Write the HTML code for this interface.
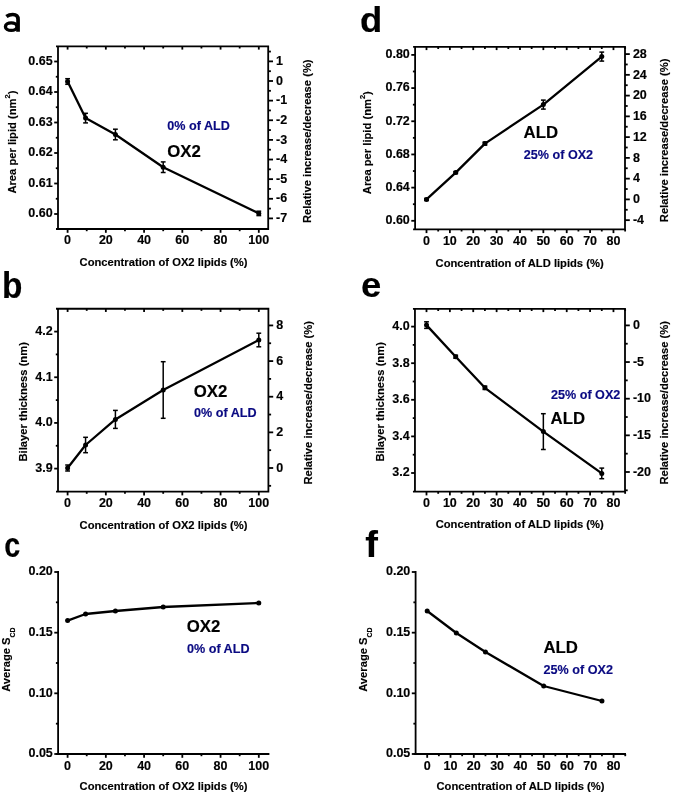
<!DOCTYPE html>
<html><head><meta charset="utf-8"><style>
html,body{margin:0;padding:0;background:#fff;}
svg{display:block;will-change:transform;}
text{font-family:"Liberation Sans", sans-serif;}
</style></head><body>
<svg width="675" height="794" viewBox="0 0 675 794">
<rect width="675" height="794" fill="#fff"/>
<path d="M58 45.5 V229.9 M268.2 45.5 V229.9 M56 46.4 H269.1 M56 229 H269.1" fill="none" stroke="#000" stroke-width="1.8"/>
<line x1="67.6" y1="229" x2="67.6" y2="232.8" stroke="#000" stroke-width="1.8"/>
<line x1="67.6" y1="46.4" x2="67.6" y2="49.6" stroke="#000" stroke-width="1.8"/>
<text x="67.6" y="244.4" font-size="12.5" text-anchor="middle" fill="#000" font-weight="bold" stroke="#000" stroke-width="0.15" >0</text>
<line x1="105.84" y1="229" x2="105.84" y2="232.8" stroke="#000" stroke-width="1.8"/>
<line x1="105.84" y1="46.4" x2="105.84" y2="49.6" stroke="#000" stroke-width="1.8"/>
<text x="105.84" y="244.4" font-size="12.5" text-anchor="middle" fill="#000" font-weight="bold" stroke="#000" stroke-width="0.15" >20</text>
<line x1="144.08" y1="229" x2="144.08" y2="232.8" stroke="#000" stroke-width="1.8"/>
<line x1="144.08" y1="46.4" x2="144.08" y2="49.6" stroke="#000" stroke-width="1.8"/>
<text x="144.08" y="244.4" font-size="12.5" text-anchor="middle" fill="#000" font-weight="bold" stroke="#000" stroke-width="0.15" >40</text>
<line x1="182.32" y1="229" x2="182.32" y2="232.8" stroke="#000" stroke-width="1.8"/>
<line x1="182.32" y1="46.4" x2="182.32" y2="49.6" stroke="#000" stroke-width="1.8"/>
<text x="182.32" y="244.4" font-size="12.5" text-anchor="middle" fill="#000" font-weight="bold" stroke="#000" stroke-width="0.15" >60</text>
<line x1="220.56" y1="229" x2="220.56" y2="232.8" stroke="#000" stroke-width="1.8"/>
<line x1="220.56" y1="46.4" x2="220.56" y2="49.6" stroke="#000" stroke-width="1.8"/>
<text x="220.56" y="244.4" font-size="12.5" text-anchor="middle" fill="#000" font-weight="bold" stroke="#000" stroke-width="0.15" >80</text>
<line x1="258.8" y1="229" x2="258.8" y2="232.8" stroke="#000" stroke-width="1.8"/>
<line x1="258.8" y1="46.4" x2="258.8" y2="49.6" stroke="#000" stroke-width="1.8"/>
<text x="258.8" y="244.4" font-size="12.5" text-anchor="middle" fill="#000" font-weight="bold" stroke="#000" stroke-width="0.15" >100</text>
<line x1="86.72" y1="229" x2="86.72" y2="231.2" stroke="#000" stroke-width="1.8"/>
<line x1="86.72" y1="46.4" x2="86.72" y2="48.5" stroke="#000" stroke-width="1.8"/>
<line x1="124.96" y1="229" x2="124.96" y2="231.2" stroke="#000" stroke-width="1.8"/>
<line x1="124.96" y1="46.4" x2="124.96" y2="48.5" stroke="#000" stroke-width="1.8"/>
<line x1="163.2" y1="229" x2="163.2" y2="231.2" stroke="#000" stroke-width="1.8"/>
<line x1="163.2" y1="46.4" x2="163.2" y2="48.5" stroke="#000" stroke-width="1.8"/>
<line x1="201.44" y1="229" x2="201.44" y2="231.2" stroke="#000" stroke-width="1.8"/>
<line x1="201.44" y1="46.4" x2="201.44" y2="48.5" stroke="#000" stroke-width="1.8"/>
<line x1="239.68" y1="229" x2="239.68" y2="231.2" stroke="#000" stroke-width="1.8"/>
<line x1="239.68" y1="46.4" x2="239.68" y2="48.5" stroke="#000" stroke-width="1.8"/>
<line x1="54.2" y1="214" x2="58" y2="214" stroke="#000" stroke-width="1.8"/>
<text x="52.7" y="217.4" font-size="12.5" text-anchor="end" fill="#000" font-weight="bold" stroke="#000" stroke-width="0.15" >0.60</text>
<line x1="54.2" y1="183.5" x2="58" y2="183.5" stroke="#000" stroke-width="1.8"/>
<text x="52.7" y="186.9" font-size="12.5" text-anchor="end" fill="#000" font-weight="bold" stroke="#000" stroke-width="0.15" >0.61</text>
<line x1="54.2" y1="153" x2="58" y2="153" stroke="#000" stroke-width="1.8"/>
<text x="52.7" y="156.4" font-size="12.5" text-anchor="end" fill="#000" font-weight="bold" stroke="#000" stroke-width="0.15" >0.62</text>
<line x1="54.2" y1="122.5" x2="58" y2="122.5" stroke="#000" stroke-width="1.8"/>
<text x="52.7" y="125.9" font-size="12.5" text-anchor="end" fill="#000" font-weight="bold" stroke="#000" stroke-width="0.15" >0.63</text>
<line x1="54.2" y1="92" x2="58" y2="92" stroke="#000" stroke-width="1.8"/>
<text x="52.7" y="95.4" font-size="12.5" text-anchor="end" fill="#000" font-weight="bold" stroke="#000" stroke-width="0.15" >0.64</text>
<line x1="54.2" y1="61.5" x2="58" y2="61.5" stroke="#000" stroke-width="1.8"/>
<text x="52.7" y="64.9" font-size="12.5" text-anchor="end" fill="#000" font-weight="bold" stroke="#000" stroke-width="0.15" >0.65</text>
<line x1="55.8" y1="198.75" x2="58" y2="198.75" stroke="#000" stroke-width="1.8"/>
<line x1="55.8" y1="168.25" x2="58" y2="168.25" stroke="#000" stroke-width="1.8"/>
<line x1="55.8" y1="137.75" x2="58" y2="137.75" stroke="#000" stroke-width="1.8"/>
<line x1="55.8" y1="107.25" x2="58" y2="107.25" stroke="#000" stroke-width="1.8"/>
<line x1="55.8" y1="76.75" x2="58" y2="76.75" stroke="#000" stroke-width="1.8"/>
<line x1="268.2" y1="61.37" x2="273" y2="61.37" stroke="#000" stroke-width="1.8"/>
<text x="276.1" y="65.07" font-size="12.5" text-anchor="start" fill="#000" font-weight="bold" stroke="#000" stroke-width="0.15" >1</text>
<line x1="268.2" y1="81" x2="273" y2="81" stroke="#000" stroke-width="1.8"/>
<text x="276.1" y="84.7" font-size="12.5" text-anchor="start" fill="#000" font-weight="bold" stroke="#000" stroke-width="0.15" >0</text>
<line x1="268.2" y1="100.63" x2="273" y2="100.63" stroke="#000" stroke-width="1.8"/>
<text x="276.1" y="104.33" font-size="12.5" text-anchor="start" fill="#000" font-weight="bold" stroke="#000" stroke-width="0.15" >-1</text>
<line x1="268.2" y1="120.26" x2="273" y2="120.26" stroke="#000" stroke-width="1.8"/>
<text x="276.1" y="123.96" font-size="12.5" text-anchor="start" fill="#000" font-weight="bold" stroke="#000" stroke-width="0.15" >-2</text>
<line x1="268.2" y1="139.89" x2="273" y2="139.89" stroke="#000" stroke-width="1.8"/>
<text x="276.1" y="143.59" font-size="12.5" text-anchor="start" fill="#000" font-weight="bold" stroke="#000" stroke-width="0.15" >-3</text>
<line x1="268.2" y1="159.52" x2="273" y2="159.52" stroke="#000" stroke-width="1.8"/>
<text x="276.1" y="163.22" font-size="12.5" text-anchor="start" fill="#000" font-weight="bold" stroke="#000" stroke-width="0.15" >-4</text>
<line x1="268.2" y1="179.15" x2="273" y2="179.15" stroke="#000" stroke-width="1.8"/>
<text x="276.1" y="182.85" font-size="12.5" text-anchor="start" fill="#000" font-weight="bold" stroke="#000" stroke-width="0.15" >-5</text>
<line x1="268.2" y1="198.78" x2="273" y2="198.78" stroke="#000" stroke-width="1.8"/>
<text x="276.1" y="202.48" font-size="12.5" text-anchor="start" fill="#000" font-weight="bold" stroke="#000" stroke-width="0.15" >-6</text>
<line x1="268.2" y1="218.41" x2="273" y2="218.41" stroke="#000" stroke-width="1.8"/>
<text x="276.1" y="222.11" font-size="12.5" text-anchor="start" fill="#000" font-weight="bold" stroke="#000" stroke-width="0.15" >-7</text>
<line x1="268.2" y1="51.55" x2="270.9" y2="51.55" stroke="#000" stroke-width="1.8"/>
<line x1="268.2" y1="71.19" x2="270.9" y2="71.19" stroke="#000" stroke-width="1.8"/>
<line x1="268.2" y1="90.81" x2="270.9" y2="90.81" stroke="#000" stroke-width="1.8"/>
<line x1="268.2" y1="110.44" x2="270.9" y2="110.44" stroke="#000" stroke-width="1.8"/>
<line x1="268.2" y1="130.07" x2="270.9" y2="130.07" stroke="#000" stroke-width="1.8"/>
<line x1="268.2" y1="149.7" x2="270.9" y2="149.7" stroke="#000" stroke-width="1.8"/>
<line x1="268.2" y1="169.33" x2="270.9" y2="169.33" stroke="#000" stroke-width="1.8"/>
<line x1="268.2" y1="188.96" x2="270.9" y2="188.96" stroke="#000" stroke-width="1.8"/>
<line x1="268.2" y1="208.59" x2="270.9" y2="208.59" stroke="#000" stroke-width="1.8"/>
<path d="M67.6 81.5 L85.57 118.1 L115.4 134.5 L163.2 167.2 L258.8 213.4" fill="none" stroke="#000" stroke-width="2.3" stroke-linejoin="round"/>
<line x1="67.6" y1="78.7" x2="67.6" y2="84.3" stroke="#000" stroke-width="1.5"/>
<line x1="65.2" y1="78.7" x2="70" y2="78.7" stroke="#000" stroke-width="1.5"/>
<line x1="65.2" y1="84.3" x2="70" y2="84.3" stroke="#000" stroke-width="1.5"/>
<circle cx="67.6" cy="81.5" r="2.5" fill="#000"/>
<line x1="85.57" y1="113.3" x2="85.57" y2="122.9" stroke="#000" stroke-width="1.5"/>
<line x1="83.17" y1="113.3" x2="87.97" y2="113.3" stroke="#000" stroke-width="1.5"/>
<line x1="83.17" y1="122.9" x2="87.97" y2="122.9" stroke="#000" stroke-width="1.5"/>
<circle cx="85.57" cy="118.1" r="2.5" fill="#000"/>
<line x1="115.4" y1="129.2" x2="115.4" y2="139.8" stroke="#000" stroke-width="1.5"/>
<line x1="113" y1="129.2" x2="117.8" y2="129.2" stroke="#000" stroke-width="1.5"/>
<line x1="113" y1="139.8" x2="117.8" y2="139.8" stroke="#000" stroke-width="1.5"/>
<circle cx="115.4" cy="134.5" r="2.5" fill="#000"/>
<line x1="163.2" y1="161.9" x2="163.2" y2="172.5" stroke="#000" stroke-width="1.5"/>
<line x1="160.8" y1="161.9" x2="165.6" y2="161.9" stroke="#000" stroke-width="1.5"/>
<line x1="160.8" y1="172.5" x2="165.6" y2="172.5" stroke="#000" stroke-width="1.5"/>
<circle cx="163.2" cy="167.2" r="2.5" fill="#000"/>
<line x1="258.8" y1="211.2" x2="258.8" y2="215.6" stroke="#000" stroke-width="1.5"/>
<line x1="256.4" y1="211.2" x2="261.2" y2="211.2" stroke="#000" stroke-width="1.5"/>
<line x1="256.4" y1="215.6" x2="261.2" y2="215.6" stroke="#000" stroke-width="1.5"/>
<circle cx="258.8" cy="213.4" r="2.5" fill="#000"/>
<path d="M6.4 16.6 C8.4 15.1 10.6 14.5 12.8 14.5 C16.4 14.5 18.05 16 18.05 19.4 V31.75" fill="none" stroke="#000" stroke-width="3.7"/>
<ellipse cx="11.2" cy="26.65" rx="5.75" ry="3.75" fill="none" stroke="#000" stroke-width="3.4"/>
<text x="167.3" y="130" font-size="12.6" text-anchor="start" fill="#0a0a82" font-weight="bold" stroke="#0a0a82" stroke-width="0.15" >0% of ALD</text>
<text x="167.2" y="156.7" font-size="16.8" text-anchor="start" fill="#000" font-weight="bold" stroke="#000" stroke-width="0.15" >OX2</text>
<text x="79.6" y="265.8" font-size="11.2" text-anchor="start" fill="#000" font-weight="bold" stroke="#000" stroke-width="0.15" >Concentration of OX2 lipids (%)</text>
<text transform="translate(16.3,193.6) rotate(-90)" font-size="11.2" font-weight="bold" stroke="#000" stroke-width="0.15">Area per lipid (nm<tspan font-size="7.5" dy="-6">2</tspan><tspan dy="6">)</tspan></text>
<text transform="translate(311.3,223) rotate(-90)" font-size="11.2" font-weight="bold" stroke="#000" stroke-width="0.15">Relative increase/decrease (%)</text>
<path d="M58 307.85 V492.5 M268.4 307.85 V492.5 M56 308.75 H269.3 M56 491.6 H269.3" fill="none" stroke="#000" stroke-width="1.8"/>
<line x1="67.6" y1="491.6" x2="67.6" y2="495.4" stroke="#000" stroke-width="1.8"/>
<line x1="67.6" y1="308.75" x2="67.6" y2="311.95" stroke="#000" stroke-width="1.8"/>
<text x="67.6" y="507.2" font-size="12.5" text-anchor="middle" fill="#000" font-weight="bold" stroke="#000" stroke-width="0.15" >0</text>
<line x1="105.84" y1="491.6" x2="105.84" y2="495.4" stroke="#000" stroke-width="1.8"/>
<line x1="105.84" y1="308.75" x2="105.84" y2="311.95" stroke="#000" stroke-width="1.8"/>
<text x="105.84" y="507.2" font-size="12.5" text-anchor="middle" fill="#000" font-weight="bold" stroke="#000" stroke-width="0.15" >20</text>
<line x1="144.08" y1="491.6" x2="144.08" y2="495.4" stroke="#000" stroke-width="1.8"/>
<line x1="144.08" y1="308.75" x2="144.08" y2="311.95" stroke="#000" stroke-width="1.8"/>
<text x="144.08" y="507.2" font-size="12.5" text-anchor="middle" fill="#000" font-weight="bold" stroke="#000" stroke-width="0.15" >40</text>
<line x1="182.32" y1="491.6" x2="182.32" y2="495.4" stroke="#000" stroke-width="1.8"/>
<line x1="182.32" y1="308.75" x2="182.32" y2="311.95" stroke="#000" stroke-width="1.8"/>
<text x="182.32" y="507.2" font-size="12.5" text-anchor="middle" fill="#000" font-weight="bold" stroke="#000" stroke-width="0.15" >60</text>
<line x1="220.56" y1="491.6" x2="220.56" y2="495.4" stroke="#000" stroke-width="1.8"/>
<line x1="220.56" y1="308.75" x2="220.56" y2="311.95" stroke="#000" stroke-width="1.8"/>
<text x="220.56" y="507.2" font-size="12.5" text-anchor="middle" fill="#000" font-weight="bold" stroke="#000" stroke-width="0.15" >80</text>
<line x1="258.8" y1="491.6" x2="258.8" y2="495.4" stroke="#000" stroke-width="1.8"/>
<line x1="258.8" y1="308.75" x2="258.8" y2="311.95" stroke="#000" stroke-width="1.8"/>
<text x="258.8" y="507.2" font-size="12.5" text-anchor="middle" fill="#000" font-weight="bold" stroke="#000" stroke-width="0.15" >100</text>
<line x1="86.72" y1="491.6" x2="86.72" y2="493.8" stroke="#000" stroke-width="1.8"/>
<line x1="86.72" y1="308.75" x2="86.72" y2="310.85" stroke="#000" stroke-width="1.8"/>
<line x1="124.96" y1="491.6" x2="124.96" y2="493.8" stroke="#000" stroke-width="1.8"/>
<line x1="124.96" y1="308.75" x2="124.96" y2="310.85" stroke="#000" stroke-width="1.8"/>
<line x1="163.2" y1="491.6" x2="163.2" y2="493.8" stroke="#000" stroke-width="1.8"/>
<line x1="163.2" y1="308.75" x2="163.2" y2="310.85" stroke="#000" stroke-width="1.8"/>
<line x1="201.44" y1="491.6" x2="201.44" y2="493.8" stroke="#000" stroke-width="1.8"/>
<line x1="201.44" y1="308.75" x2="201.44" y2="310.85" stroke="#000" stroke-width="1.8"/>
<line x1="239.68" y1="491.6" x2="239.68" y2="493.8" stroke="#000" stroke-width="1.8"/>
<line x1="239.68" y1="308.75" x2="239.68" y2="310.85" stroke="#000" stroke-width="1.8"/>
<line x1="54.2" y1="468.6" x2="58" y2="468.6" stroke="#000" stroke-width="1.8"/>
<text x="52.7" y="472" font-size="12.5" text-anchor="end" fill="#000" font-weight="bold" stroke="#000" stroke-width="0.15" >3.9</text>
<line x1="54.2" y1="422.93" x2="58" y2="422.93" stroke="#000" stroke-width="1.8"/>
<text x="52.7" y="426.33" font-size="12.5" text-anchor="end" fill="#000" font-weight="bold" stroke="#000" stroke-width="0.15" >4.0</text>
<line x1="54.2" y1="377.26" x2="58" y2="377.26" stroke="#000" stroke-width="1.8"/>
<text x="52.7" y="380.66" font-size="12.5" text-anchor="end" fill="#000" font-weight="bold" stroke="#000" stroke-width="0.15" >4.1</text>
<line x1="54.2" y1="331.59" x2="58" y2="331.59" stroke="#000" stroke-width="1.8"/>
<text x="52.7" y="334.99" font-size="12.5" text-anchor="end" fill="#000" font-weight="bold" stroke="#000" stroke-width="0.15" >4.2</text>
<line x1="55.8" y1="445.76" x2="58" y2="445.76" stroke="#000" stroke-width="1.8"/>
<line x1="55.8" y1="400.1" x2="58" y2="400.1" stroke="#000" stroke-width="1.8"/>
<line x1="55.8" y1="354.42" x2="58" y2="354.42" stroke="#000" stroke-width="1.8"/>
<line x1="268.4" y1="468" x2="273.2" y2="468" stroke="#000" stroke-width="1.8"/>
<text x="276.3" y="471.7" font-size="12.5" text-anchor="start" fill="#000" font-weight="bold" stroke="#000" stroke-width="0.15" >0</text>
<line x1="268.4" y1="432.36" x2="273.2" y2="432.36" stroke="#000" stroke-width="1.8"/>
<text x="276.3" y="436.06" font-size="12.5" text-anchor="start" fill="#000" font-weight="bold" stroke="#000" stroke-width="0.15" >2</text>
<line x1="268.4" y1="396.72" x2="273.2" y2="396.72" stroke="#000" stroke-width="1.8"/>
<text x="276.3" y="400.42" font-size="12.5" text-anchor="start" fill="#000" font-weight="bold" stroke="#000" stroke-width="0.15" >4</text>
<line x1="268.4" y1="361.08" x2="273.2" y2="361.08" stroke="#000" stroke-width="1.8"/>
<text x="276.3" y="364.78" font-size="12.5" text-anchor="start" fill="#000" font-weight="bold" stroke="#000" stroke-width="0.15" >6</text>
<line x1="268.4" y1="325.44" x2="273.2" y2="325.44" stroke="#000" stroke-width="1.8"/>
<text x="276.3" y="329.14" font-size="12.5" text-anchor="start" fill="#000" font-weight="bold" stroke="#000" stroke-width="0.15" >8</text>
<line x1="268.4" y1="485.82" x2="271.1" y2="485.82" stroke="#000" stroke-width="1.8"/>
<line x1="268.4" y1="450.18" x2="271.1" y2="450.18" stroke="#000" stroke-width="1.8"/>
<line x1="268.4" y1="414.54" x2="271.1" y2="414.54" stroke="#000" stroke-width="1.8"/>
<line x1="268.4" y1="378.9" x2="271.1" y2="378.9" stroke="#000" stroke-width="1.8"/>
<line x1="268.4" y1="343.26" x2="271.1" y2="343.26" stroke="#000" stroke-width="1.8"/>
<path d="M67.6 468 L85.57 445 L115.4 419.4 L163.2 390 L258.8 340" fill="none" stroke="#000" stroke-width="2.3" stroke-linejoin="round"/>
<line x1="67.6" y1="465" x2="67.6" y2="471" stroke="#000" stroke-width="1.5"/>
<line x1="65.2" y1="465" x2="70" y2="465" stroke="#000" stroke-width="1.5"/>
<line x1="65.2" y1="471" x2="70" y2="471" stroke="#000" stroke-width="1.5"/>
<circle cx="67.6" cy="468" r="2.5" fill="#000"/>
<line x1="85.57" y1="437.3" x2="85.57" y2="452.7" stroke="#000" stroke-width="1.5"/>
<line x1="83.17" y1="437.3" x2="87.97" y2="437.3" stroke="#000" stroke-width="1.5"/>
<line x1="83.17" y1="452.7" x2="87.97" y2="452.7" stroke="#000" stroke-width="1.5"/>
<circle cx="85.57" cy="445" r="2.5" fill="#000"/>
<line x1="115.4" y1="410.4" x2="115.4" y2="428.4" stroke="#000" stroke-width="1.5"/>
<line x1="113" y1="410.4" x2="117.8" y2="410.4" stroke="#000" stroke-width="1.5"/>
<line x1="113" y1="428.4" x2="117.8" y2="428.4" stroke="#000" stroke-width="1.5"/>
<circle cx="115.4" cy="419.4" r="2.5" fill="#000"/>
<line x1="163.2" y1="361.7" x2="163.2" y2="418.3" stroke="#000" stroke-width="1.5"/>
<line x1="160.8" y1="361.7" x2="165.6" y2="361.7" stroke="#000" stroke-width="1.5"/>
<line x1="160.8" y1="418.3" x2="165.6" y2="418.3" stroke="#000" stroke-width="1.5"/>
<circle cx="163.2" cy="390" r="2.5" fill="#000"/>
<line x1="258.8" y1="333.2" x2="258.8" y2="346.8" stroke="#000" stroke-width="1.5"/>
<line x1="256.4" y1="333.2" x2="261.2" y2="333.2" stroke="#000" stroke-width="1.5"/>
<line x1="256.4" y1="346.8" x2="261.2" y2="346.8" stroke="#000" stroke-width="1.5"/>
<circle cx="258.8" cy="340" r="2.5" fill="#000"/>
<text transform="translate(2.02,298.04) scale(0.928,1)" font-size="36.05" font-weight="bold" stroke="#000" stroke-width="0.15">b</text>
<text x="193.8" y="397" font-size="16.8" text-anchor="start" fill="#000" font-weight="bold" stroke="#000" stroke-width="0.15" >OX2</text>
<text x="194.1" y="417.2" font-size="12.6" text-anchor="start" fill="#0a0a82" font-weight="bold" stroke="#0a0a82" stroke-width="0.15" >0% of ALD</text>
<text x="79.6" y="529.2" font-size="11.2" text-anchor="start" fill="#000" font-weight="bold" stroke="#000" stroke-width="0.15" >Concentration of OX2 lipids (%)</text>
<text transform="translate(26.8,461.5) rotate(-90)" font-size="11.2" font-weight="bold" stroke="#000" stroke-width="0.15">Bilayer thickness (nm)</text>
<text transform="translate(311.5,484.6) rotate(-90)" font-size="11.2" font-weight="bold" stroke="#000" stroke-width="0.15">Relative increase/decrease (%)</text>
<path d="M58.1 571 V754.9 M56.1 754 H269.4" fill="none" stroke="#000" stroke-width="1.8"/>
<line x1="67.6" y1="754" x2="67.6" y2="757.8" stroke="#000" stroke-width="1.8"/>
<text x="67.6" y="769.6" font-size="12.5" text-anchor="middle" fill="#000" font-weight="bold" stroke="#000" stroke-width="0.15" >0</text>
<line x1="105.84" y1="754" x2="105.84" y2="757.8" stroke="#000" stroke-width="1.8"/>
<text x="105.84" y="769.6" font-size="12.5" text-anchor="middle" fill="#000" font-weight="bold" stroke="#000" stroke-width="0.15" >20</text>
<line x1="144.08" y1="754" x2="144.08" y2="757.8" stroke="#000" stroke-width="1.8"/>
<text x="144.08" y="769.6" font-size="12.5" text-anchor="middle" fill="#000" font-weight="bold" stroke="#000" stroke-width="0.15" >40</text>
<line x1="182.32" y1="754" x2="182.32" y2="757.8" stroke="#000" stroke-width="1.8"/>
<text x="182.32" y="769.6" font-size="12.5" text-anchor="middle" fill="#000" font-weight="bold" stroke="#000" stroke-width="0.15" >60</text>
<line x1="220.56" y1="754" x2="220.56" y2="757.8" stroke="#000" stroke-width="1.8"/>
<text x="220.56" y="769.6" font-size="12.5" text-anchor="middle" fill="#000" font-weight="bold" stroke="#000" stroke-width="0.15" >80</text>
<line x1="258.8" y1="754" x2="258.8" y2="757.8" stroke="#000" stroke-width="1.8"/>
<text x="258.8" y="769.6" font-size="12.5" text-anchor="middle" fill="#000" font-weight="bold" stroke="#000" stroke-width="0.15" >100</text>
<line x1="86.72" y1="754" x2="86.72" y2="756.2" stroke="#000" stroke-width="1.8"/>
<line x1="124.96" y1="754" x2="124.96" y2="756.2" stroke="#000" stroke-width="1.8"/>
<line x1="163.2" y1="754" x2="163.2" y2="756.2" stroke="#000" stroke-width="1.8"/>
<line x1="201.44" y1="754" x2="201.44" y2="756.2" stroke="#000" stroke-width="1.8"/>
<line x1="239.68" y1="754" x2="239.68" y2="756.2" stroke="#000" stroke-width="1.8"/>
<line x1="54.3" y1="754" x2="58.1" y2="754" stroke="#000" stroke-width="1.8"/>
<text x="52.8" y="757.4" font-size="12.5" text-anchor="end" fill="#000" font-weight="bold" stroke="#000" stroke-width="0.15" >0.05</text>
<line x1="54.3" y1="693.33" x2="58.1" y2="693.33" stroke="#000" stroke-width="1.8"/>
<text x="52.8" y="696.73" font-size="12.5" text-anchor="end" fill="#000" font-weight="bold" stroke="#000" stroke-width="0.15" >0.10</text>
<line x1="54.3" y1="632.67" x2="58.1" y2="632.67" stroke="#000" stroke-width="1.8"/>
<text x="52.8" y="636.07" font-size="12.5" text-anchor="end" fill="#000" font-weight="bold" stroke="#000" stroke-width="0.15" >0.15</text>
<line x1="54.3" y1="572" x2="58.1" y2="572" stroke="#000" stroke-width="1.8"/>
<text x="52.8" y="575.4" font-size="12.5" text-anchor="end" fill="#000" font-weight="bold" stroke="#000" stroke-width="0.15" >0.20</text>
<line x1="55.9" y1="723.67" x2="58.1" y2="723.67" stroke="#000" stroke-width="1.8"/>
<line x1="55.9" y1="663" x2="58.1" y2="663" stroke="#000" stroke-width="1.8"/>
<line x1="55.9" y1="602.34" x2="58.1" y2="602.34" stroke="#000" stroke-width="1.8"/>
<path d="M67.6 620.6 L85.57 614 L115.4 611 L163.2 607 L258.8 603" fill="none" stroke="#000" stroke-width="2.3" stroke-linejoin="round"/>
<circle cx="67.6" cy="620.6" r="2.5" fill="#000"/>
<circle cx="85.57" cy="614" r="2.5" fill="#000"/>
<circle cx="115.4" cy="611" r="2.5" fill="#000"/>
<circle cx="163.2" cy="607" r="2.5" fill="#000"/>
<circle cx="258.8" cy="603" r="2.5" fill="#000"/>
<text transform="translate(4.18,556.65) scale(0.827,1)" font-size="34.67" font-weight="bold" stroke="#000" stroke-width="0.15">c</text>
<text x="186.8" y="632.4" font-size="16.8" text-anchor="start" fill="#000" font-weight="bold" stroke="#000" stroke-width="0.15" >OX2</text>
<text x="187" y="653.2" font-size="12.6" text-anchor="start" fill="#0a0a82" font-weight="bold" stroke="#0a0a82" stroke-width="0.15" >0% of ALD</text>
<text x="79.6" y="789.5" font-size="11.2" text-anchor="start" fill="#000" font-weight="bold" stroke="#000" stroke-width="0.15" >Concentration of OX2 lipids (%)</text>
<text transform="translate(10.4,691.8) rotate(-90)" font-size="11.2" font-weight="bold" stroke="#000" stroke-width="0.15">Average S<tspan font-size="7" dy="4.8">CD</tspan></text>
<path d="M415.1 46 V230.2 M625 46 V230.2 M413.1 46.9 H625.9 M413.1 229.3 H625.9" fill="none" stroke="#000" stroke-width="1.8"/>
<line x1="426.5" y1="229.3" x2="426.5" y2="233.1" stroke="#000" stroke-width="1.8"/>
<line x1="426.5" y1="46.9" x2="426.5" y2="50.1" stroke="#000" stroke-width="1.8"/>
<text x="426.5" y="245" font-size="12.5" text-anchor="middle" fill="#000" font-weight="bold" stroke="#000" stroke-width="0.15" >0</text>
<line x1="449.87" y1="229.3" x2="449.87" y2="233.1" stroke="#000" stroke-width="1.8"/>
<line x1="449.87" y1="46.9" x2="449.87" y2="50.1" stroke="#000" stroke-width="1.8"/>
<text x="449.87" y="245" font-size="12.5" text-anchor="middle" fill="#000" font-weight="bold" stroke="#000" stroke-width="0.15" >10</text>
<line x1="473.24" y1="229.3" x2="473.24" y2="233.1" stroke="#000" stroke-width="1.8"/>
<line x1="473.24" y1="46.9" x2="473.24" y2="50.1" stroke="#000" stroke-width="1.8"/>
<text x="473.24" y="245" font-size="12.5" text-anchor="middle" fill="#000" font-weight="bold" stroke="#000" stroke-width="0.15" >20</text>
<line x1="496.61" y1="229.3" x2="496.61" y2="233.1" stroke="#000" stroke-width="1.8"/>
<line x1="496.61" y1="46.9" x2="496.61" y2="50.1" stroke="#000" stroke-width="1.8"/>
<text x="496.61" y="245" font-size="12.5" text-anchor="middle" fill="#000" font-weight="bold" stroke="#000" stroke-width="0.15" >30</text>
<line x1="519.98" y1="229.3" x2="519.98" y2="233.1" stroke="#000" stroke-width="1.8"/>
<line x1="519.98" y1="46.9" x2="519.98" y2="50.1" stroke="#000" stroke-width="1.8"/>
<text x="519.98" y="245" font-size="12.5" text-anchor="middle" fill="#000" font-weight="bold" stroke="#000" stroke-width="0.15" >40</text>
<line x1="543.35" y1="229.3" x2="543.35" y2="233.1" stroke="#000" stroke-width="1.8"/>
<line x1="543.35" y1="46.9" x2="543.35" y2="50.1" stroke="#000" stroke-width="1.8"/>
<text x="543.35" y="245" font-size="12.5" text-anchor="middle" fill="#000" font-weight="bold" stroke="#000" stroke-width="0.15" >50</text>
<line x1="566.72" y1="229.3" x2="566.72" y2="233.1" stroke="#000" stroke-width="1.8"/>
<line x1="566.72" y1="46.9" x2="566.72" y2="50.1" stroke="#000" stroke-width="1.8"/>
<text x="566.72" y="245" font-size="12.5" text-anchor="middle" fill="#000" font-weight="bold" stroke="#000" stroke-width="0.15" >60</text>
<line x1="590.09" y1="229.3" x2="590.09" y2="233.1" stroke="#000" stroke-width="1.8"/>
<line x1="590.09" y1="46.9" x2="590.09" y2="50.1" stroke="#000" stroke-width="1.8"/>
<text x="590.09" y="245" font-size="12.5" text-anchor="middle" fill="#000" font-weight="bold" stroke="#000" stroke-width="0.15" >70</text>
<line x1="613.46" y1="229.3" x2="613.46" y2="233.1" stroke="#000" stroke-width="1.8"/>
<line x1="613.46" y1="46.9" x2="613.46" y2="50.1" stroke="#000" stroke-width="1.8"/>
<text x="613.46" y="245" font-size="12.5" text-anchor="middle" fill="#000" font-weight="bold" stroke="#000" stroke-width="0.15" >80</text>
<line x1="438.19" y1="229.3" x2="438.19" y2="231.5" stroke="#000" stroke-width="1.8"/>
<line x1="438.19" y1="46.9" x2="438.19" y2="49" stroke="#000" stroke-width="1.8"/>
<line x1="461.56" y1="229.3" x2="461.56" y2="231.5" stroke="#000" stroke-width="1.8"/>
<line x1="461.56" y1="46.9" x2="461.56" y2="49" stroke="#000" stroke-width="1.8"/>
<line x1="484.93" y1="229.3" x2="484.93" y2="231.5" stroke="#000" stroke-width="1.8"/>
<line x1="484.93" y1="46.9" x2="484.93" y2="49" stroke="#000" stroke-width="1.8"/>
<line x1="508.3" y1="229.3" x2="508.3" y2="231.5" stroke="#000" stroke-width="1.8"/>
<line x1="508.3" y1="46.9" x2="508.3" y2="49" stroke="#000" stroke-width="1.8"/>
<line x1="531.66" y1="229.3" x2="531.66" y2="231.5" stroke="#000" stroke-width="1.8"/>
<line x1="531.66" y1="46.9" x2="531.66" y2="49" stroke="#000" stroke-width="1.8"/>
<line x1="555.03" y1="229.3" x2="555.03" y2="231.5" stroke="#000" stroke-width="1.8"/>
<line x1="555.03" y1="46.9" x2="555.03" y2="49" stroke="#000" stroke-width="1.8"/>
<line x1="578.4" y1="229.3" x2="578.4" y2="231.5" stroke="#000" stroke-width="1.8"/>
<line x1="578.4" y1="46.9" x2="578.4" y2="49" stroke="#000" stroke-width="1.8"/>
<line x1="601.77" y1="229.3" x2="601.77" y2="231.5" stroke="#000" stroke-width="1.8"/>
<line x1="601.77" y1="46.9" x2="601.77" y2="49" stroke="#000" stroke-width="1.8"/>
<line x1="625.14" y1="229.3" x2="625.14" y2="231.5" stroke="#000" stroke-width="1.8"/>
<line x1="625.14" y1="46.9" x2="625.14" y2="49" stroke="#000" stroke-width="1.8"/>
<line x1="411.3" y1="220.8" x2="415.1" y2="220.8" stroke="#000" stroke-width="1.8"/>
<text x="409.8" y="224.2" font-size="12.5" text-anchor="end" fill="#000" font-weight="bold" stroke="#000" stroke-width="0.15" >0.60</text>
<line x1="411.3" y1="187.62" x2="415.1" y2="187.62" stroke="#000" stroke-width="1.8"/>
<text x="409.8" y="191.02" font-size="12.5" text-anchor="end" fill="#000" font-weight="bold" stroke="#000" stroke-width="0.15" >0.64</text>
<line x1="411.3" y1="154.44" x2="415.1" y2="154.44" stroke="#000" stroke-width="1.8"/>
<text x="409.8" y="157.84" font-size="12.5" text-anchor="end" fill="#000" font-weight="bold" stroke="#000" stroke-width="0.15" >0.68</text>
<line x1="411.3" y1="121.26" x2="415.1" y2="121.26" stroke="#000" stroke-width="1.8"/>
<text x="409.8" y="124.66" font-size="12.5" text-anchor="end" fill="#000" font-weight="bold" stroke="#000" stroke-width="0.15" >0.72</text>
<line x1="411.3" y1="88.08" x2="415.1" y2="88.08" stroke="#000" stroke-width="1.8"/>
<text x="409.8" y="91.48" font-size="12.5" text-anchor="end" fill="#000" font-weight="bold" stroke="#000" stroke-width="0.15" >0.76</text>
<line x1="411.3" y1="54.9" x2="415.1" y2="54.9" stroke="#000" stroke-width="1.8"/>
<text x="409.8" y="58.3" font-size="12.5" text-anchor="end" fill="#000" font-weight="bold" stroke="#000" stroke-width="0.15" >0.80</text>
<line x1="412.9" y1="204.21" x2="415.1" y2="204.21" stroke="#000" stroke-width="1.8"/>
<line x1="412.9" y1="171.03" x2="415.1" y2="171.03" stroke="#000" stroke-width="1.8"/>
<line x1="412.9" y1="137.85" x2="415.1" y2="137.85" stroke="#000" stroke-width="1.8"/>
<line x1="412.9" y1="104.67" x2="415.1" y2="104.67" stroke="#000" stroke-width="1.8"/>
<line x1="412.9" y1="71.49" x2="415.1" y2="71.49" stroke="#000" stroke-width="1.8"/>
<line x1="625" y1="220.16" x2="629.8" y2="220.16" stroke="#000" stroke-width="1.8"/>
<text x="632.9" y="223.86" font-size="12.5" text-anchor="start" fill="#000" font-weight="bold" stroke="#000" stroke-width="0.15" >-4</text>
<line x1="625" y1="199.4" x2="629.8" y2="199.4" stroke="#000" stroke-width="1.8"/>
<text x="632.9" y="203.1" font-size="12.5" text-anchor="start" fill="#000" font-weight="bold" stroke="#000" stroke-width="0.15" >0</text>
<line x1="625" y1="178.64" x2="629.8" y2="178.64" stroke="#000" stroke-width="1.8"/>
<text x="632.9" y="182.34" font-size="12.5" text-anchor="start" fill="#000" font-weight="bold" stroke="#000" stroke-width="0.15" >4</text>
<line x1="625" y1="157.88" x2="629.8" y2="157.88" stroke="#000" stroke-width="1.8"/>
<text x="632.9" y="161.58" font-size="12.5" text-anchor="start" fill="#000" font-weight="bold" stroke="#000" stroke-width="0.15" >8</text>
<line x1="625" y1="137.12" x2="629.8" y2="137.12" stroke="#000" stroke-width="1.8"/>
<text x="632.9" y="140.82" font-size="12.5" text-anchor="start" fill="#000" font-weight="bold" stroke="#000" stroke-width="0.15" >12</text>
<line x1="625" y1="116.36" x2="629.8" y2="116.36" stroke="#000" stroke-width="1.8"/>
<text x="632.9" y="120.06" font-size="12.5" text-anchor="start" fill="#000" font-weight="bold" stroke="#000" stroke-width="0.15" >16</text>
<line x1="625" y1="95.6" x2="629.8" y2="95.6" stroke="#000" stroke-width="1.8"/>
<text x="632.9" y="99.3" font-size="12.5" text-anchor="start" fill="#000" font-weight="bold" stroke="#000" stroke-width="0.15" >20</text>
<line x1="625" y1="74.84" x2="629.8" y2="74.84" stroke="#000" stroke-width="1.8"/>
<text x="632.9" y="78.54" font-size="12.5" text-anchor="start" fill="#000" font-weight="bold" stroke="#000" stroke-width="0.15" >24</text>
<line x1="625" y1="54.08" x2="629.8" y2="54.08" stroke="#000" stroke-width="1.8"/>
<text x="632.9" y="57.78" font-size="12.5" text-anchor="start" fill="#000" font-weight="bold" stroke="#000" stroke-width="0.15" >28</text>
<line x1="625" y1="209.78" x2="627.7" y2="209.78" stroke="#000" stroke-width="1.8"/>
<line x1="625" y1="189.02" x2="627.7" y2="189.02" stroke="#000" stroke-width="1.8"/>
<line x1="625" y1="168.26" x2="627.7" y2="168.26" stroke="#000" stroke-width="1.8"/>
<line x1="625" y1="147.5" x2="627.7" y2="147.5" stroke="#000" stroke-width="1.8"/>
<line x1="625" y1="126.74" x2="627.7" y2="126.74" stroke="#000" stroke-width="1.8"/>
<line x1="625" y1="105.98" x2="627.7" y2="105.98" stroke="#000" stroke-width="1.8"/>
<line x1="625" y1="85.22" x2="627.7" y2="85.22" stroke="#000" stroke-width="1.8"/>
<line x1="625" y1="64.46" x2="627.7" y2="64.46" stroke="#000" stroke-width="1.8"/>
<path d="M426.5 199.4 L455.71 172.6 L484.93 143.6 L543.35 104.6 L601.77 56.6" fill="none" stroke="#000" stroke-width="2.3" stroke-linejoin="round"/>
<line x1="426.5" y1="198.4" x2="426.5" y2="200.4" stroke="#000" stroke-width="1.5"/>
<line x1="424.1" y1="198.4" x2="428.9" y2="198.4" stroke="#000" stroke-width="1.5"/>
<line x1="424.1" y1="200.4" x2="428.9" y2="200.4" stroke="#000" stroke-width="1.5"/>
<circle cx="426.5" cy="199.4" r="2.5" fill="#000"/>
<line x1="455.71" y1="171.6" x2="455.71" y2="173.6" stroke="#000" stroke-width="1.5"/>
<line x1="453.31" y1="171.6" x2="458.11" y2="171.6" stroke="#000" stroke-width="1.5"/>
<line x1="453.31" y1="173.6" x2="458.11" y2="173.6" stroke="#000" stroke-width="1.5"/>
<circle cx="455.71" cy="172.6" r="2.5" fill="#000"/>
<line x1="484.93" y1="142.1" x2="484.93" y2="145.1" stroke="#000" stroke-width="1.5"/>
<line x1="482.53" y1="142.1" x2="487.32" y2="142.1" stroke="#000" stroke-width="1.5"/>
<line x1="482.53" y1="145.1" x2="487.32" y2="145.1" stroke="#000" stroke-width="1.5"/>
<circle cx="484.93" cy="143.6" r="2.5" fill="#000"/>
<line x1="543.35" y1="100.1" x2="543.35" y2="109.1" stroke="#000" stroke-width="1.5"/>
<line x1="540.95" y1="100.1" x2="545.75" y2="100.1" stroke="#000" stroke-width="1.5"/>
<line x1="540.95" y1="109.1" x2="545.75" y2="109.1" stroke="#000" stroke-width="1.5"/>
<circle cx="543.35" cy="104.6" r="2.5" fill="#000"/>
<line x1="601.77" y1="52.1" x2="601.77" y2="61.1" stroke="#000" stroke-width="1.5"/>
<line x1="599.38" y1="52.1" x2="604.17" y2="52.1" stroke="#000" stroke-width="1.5"/>
<line x1="599.38" y1="61.1" x2="604.17" y2="61.1" stroke="#000" stroke-width="1.5"/>
<circle cx="601.77" cy="56.6" r="2.5" fill="#000"/>
<text transform="translate(360.1,32.04) scale(1.016,1)" font-size="35.92" font-weight="bold" stroke="#000" stroke-width="0.15">d</text>
<text x="523.6" y="137.9" font-size="16.8" text-anchor="start" fill="#000" font-weight="bold" stroke="#000" stroke-width="0.15" >ALD</text>
<text x="523.8" y="158.6" font-size="12.6" text-anchor="start" fill="#0a0a82" font-weight="bold" stroke="#0a0a82" stroke-width="0.15" >25% of OX2</text>
<text x="435.6" y="267.2" font-size="11.2" text-anchor="start" fill="#000" font-weight="bold" stroke="#000" stroke-width="0.15" >Concentration of ALD lipids (%)</text>
<text transform="translate(371.4,194.2) rotate(-90)" font-size="11.2" font-weight="bold" stroke="#000" stroke-width="0.15">Area per lipid (nm<tspan font-size="7.5" dy="-6">2</tspan><tspan dy="6">)</tspan></text>
<text transform="translate(667.9,222.2) rotate(-90)" font-size="11.2" font-weight="bold" stroke="#000" stroke-width="0.15">Relative increase/decrease (%)</text>
<path d="M414.95 308 V492.5 M625 308 V492.5 M412.95 308.9 H625.9 M412.95 491.6 H625.9" fill="none" stroke="#000" stroke-width="1.8"/>
<line x1="426.5" y1="491.6" x2="426.5" y2="495.4" stroke="#000" stroke-width="1.8"/>
<line x1="426.5" y1="308.9" x2="426.5" y2="312.1" stroke="#000" stroke-width="1.8"/>
<text x="426.5" y="506.6" font-size="12.5" text-anchor="middle" fill="#000" font-weight="bold" stroke="#000" stroke-width="0.15" >0</text>
<line x1="449.87" y1="491.6" x2="449.87" y2="495.4" stroke="#000" stroke-width="1.8"/>
<line x1="449.87" y1="308.9" x2="449.87" y2="312.1" stroke="#000" stroke-width="1.8"/>
<text x="449.87" y="506.6" font-size="12.5" text-anchor="middle" fill="#000" font-weight="bold" stroke="#000" stroke-width="0.15" >10</text>
<line x1="473.24" y1="491.6" x2="473.24" y2="495.4" stroke="#000" stroke-width="1.8"/>
<line x1="473.24" y1="308.9" x2="473.24" y2="312.1" stroke="#000" stroke-width="1.8"/>
<text x="473.24" y="506.6" font-size="12.5" text-anchor="middle" fill="#000" font-weight="bold" stroke="#000" stroke-width="0.15" >20</text>
<line x1="496.61" y1="491.6" x2="496.61" y2="495.4" stroke="#000" stroke-width="1.8"/>
<line x1="496.61" y1="308.9" x2="496.61" y2="312.1" stroke="#000" stroke-width="1.8"/>
<text x="496.61" y="506.6" font-size="12.5" text-anchor="middle" fill="#000" font-weight="bold" stroke="#000" stroke-width="0.15" >30</text>
<line x1="519.98" y1="491.6" x2="519.98" y2="495.4" stroke="#000" stroke-width="1.8"/>
<line x1="519.98" y1="308.9" x2="519.98" y2="312.1" stroke="#000" stroke-width="1.8"/>
<text x="519.98" y="506.6" font-size="12.5" text-anchor="middle" fill="#000" font-weight="bold" stroke="#000" stroke-width="0.15" >40</text>
<line x1="543.35" y1="491.6" x2="543.35" y2="495.4" stroke="#000" stroke-width="1.8"/>
<line x1="543.35" y1="308.9" x2="543.35" y2="312.1" stroke="#000" stroke-width="1.8"/>
<text x="543.35" y="506.6" font-size="12.5" text-anchor="middle" fill="#000" font-weight="bold" stroke="#000" stroke-width="0.15" >50</text>
<line x1="566.72" y1="491.6" x2="566.72" y2="495.4" stroke="#000" stroke-width="1.8"/>
<line x1="566.72" y1="308.9" x2="566.72" y2="312.1" stroke="#000" stroke-width="1.8"/>
<text x="566.72" y="506.6" font-size="12.5" text-anchor="middle" fill="#000" font-weight="bold" stroke="#000" stroke-width="0.15" >60</text>
<line x1="590.09" y1="491.6" x2="590.09" y2="495.4" stroke="#000" stroke-width="1.8"/>
<line x1="590.09" y1="308.9" x2="590.09" y2="312.1" stroke="#000" stroke-width="1.8"/>
<text x="590.09" y="506.6" font-size="12.5" text-anchor="middle" fill="#000" font-weight="bold" stroke="#000" stroke-width="0.15" >70</text>
<line x1="613.46" y1="491.6" x2="613.46" y2="495.4" stroke="#000" stroke-width="1.8"/>
<line x1="613.46" y1="308.9" x2="613.46" y2="312.1" stroke="#000" stroke-width="1.8"/>
<text x="613.46" y="506.6" font-size="12.5" text-anchor="middle" fill="#000" font-weight="bold" stroke="#000" stroke-width="0.15" >80</text>
<line x1="438.19" y1="491.6" x2="438.19" y2="493.8" stroke="#000" stroke-width="1.8"/>
<line x1="438.19" y1="308.9" x2="438.19" y2="311" stroke="#000" stroke-width="1.8"/>
<line x1="461.56" y1="491.6" x2="461.56" y2="493.8" stroke="#000" stroke-width="1.8"/>
<line x1="461.56" y1="308.9" x2="461.56" y2="311" stroke="#000" stroke-width="1.8"/>
<line x1="484.93" y1="491.6" x2="484.93" y2="493.8" stroke="#000" stroke-width="1.8"/>
<line x1="484.93" y1="308.9" x2="484.93" y2="311" stroke="#000" stroke-width="1.8"/>
<line x1="508.3" y1="491.6" x2="508.3" y2="493.8" stroke="#000" stroke-width="1.8"/>
<line x1="508.3" y1="308.9" x2="508.3" y2="311" stroke="#000" stroke-width="1.8"/>
<line x1="531.66" y1="491.6" x2="531.66" y2="493.8" stroke="#000" stroke-width="1.8"/>
<line x1="531.66" y1="308.9" x2="531.66" y2="311" stroke="#000" stroke-width="1.8"/>
<line x1="555.03" y1="491.6" x2="555.03" y2="493.8" stroke="#000" stroke-width="1.8"/>
<line x1="555.03" y1="308.9" x2="555.03" y2="311" stroke="#000" stroke-width="1.8"/>
<line x1="578.4" y1="491.6" x2="578.4" y2="493.8" stroke="#000" stroke-width="1.8"/>
<line x1="578.4" y1="308.9" x2="578.4" y2="311" stroke="#000" stroke-width="1.8"/>
<line x1="601.77" y1="491.6" x2="601.77" y2="493.8" stroke="#000" stroke-width="1.8"/>
<line x1="601.77" y1="308.9" x2="601.77" y2="311" stroke="#000" stroke-width="1.8"/>
<line x1="625.14" y1="491.6" x2="625.14" y2="493.8" stroke="#000" stroke-width="1.8"/>
<line x1="625.14" y1="308.9" x2="625.14" y2="311" stroke="#000" stroke-width="1.8"/>
<line x1="411.15" y1="473" x2="414.95" y2="473" stroke="#000" stroke-width="1.8"/>
<text x="409.65" y="476.4" font-size="12.5" text-anchor="end" fill="#000" font-weight="bold" stroke="#000" stroke-width="0.15" >3.2</text>
<line x1="411.15" y1="436.4" x2="414.95" y2="436.4" stroke="#000" stroke-width="1.8"/>
<text x="409.65" y="439.8" font-size="12.5" text-anchor="end" fill="#000" font-weight="bold" stroke="#000" stroke-width="0.15" >3.4</text>
<line x1="411.15" y1="399.8" x2="414.95" y2="399.8" stroke="#000" stroke-width="1.8"/>
<text x="409.65" y="403.2" font-size="12.5" text-anchor="end" fill="#000" font-weight="bold" stroke="#000" stroke-width="0.15" >3.6</text>
<line x1="411.15" y1="363.2" x2="414.95" y2="363.2" stroke="#000" stroke-width="1.8"/>
<text x="409.65" y="366.6" font-size="12.5" text-anchor="end" fill="#000" font-weight="bold" stroke="#000" stroke-width="0.15" >3.8</text>
<line x1="411.15" y1="326.6" x2="414.95" y2="326.6" stroke="#000" stroke-width="1.8"/>
<text x="409.65" y="330" font-size="12.5" text-anchor="end" fill="#000" font-weight="bold" stroke="#000" stroke-width="0.15" >4.0</text>
<line x1="412.75" y1="454.7" x2="414.95" y2="454.7" stroke="#000" stroke-width="1.8"/>
<line x1="412.75" y1="418.1" x2="414.95" y2="418.1" stroke="#000" stroke-width="1.8"/>
<line x1="412.75" y1="381.5" x2="414.95" y2="381.5" stroke="#000" stroke-width="1.8"/>
<line x1="412.75" y1="344.9" x2="414.95" y2="344.9" stroke="#000" stroke-width="1.8"/>
<line x1="625" y1="325.4" x2="629.8" y2="325.4" stroke="#000" stroke-width="1.8"/>
<text x="632.9" y="329.1" font-size="12.5" text-anchor="start" fill="#000" font-weight="bold" stroke="#000" stroke-width="0.15" >0</text>
<line x1="625" y1="362.05" x2="629.8" y2="362.05" stroke="#000" stroke-width="1.8"/>
<text x="632.9" y="365.75" font-size="12.5" text-anchor="start" fill="#000" font-weight="bold" stroke="#000" stroke-width="0.15" >-5</text>
<line x1="625" y1="398.7" x2="629.8" y2="398.7" stroke="#000" stroke-width="1.8"/>
<text x="632.9" y="402.4" font-size="12.5" text-anchor="start" fill="#000" font-weight="bold" stroke="#000" stroke-width="0.15" >-10</text>
<line x1="625" y1="435.35" x2="629.8" y2="435.35" stroke="#000" stroke-width="1.8"/>
<text x="632.9" y="439.05" font-size="12.5" text-anchor="start" fill="#000" font-weight="bold" stroke="#000" stroke-width="0.15" >-15</text>
<line x1="625" y1="472" x2="629.8" y2="472" stroke="#000" stroke-width="1.8"/>
<text x="632.9" y="475.7" font-size="12.5" text-anchor="start" fill="#000" font-weight="bold" stroke="#000" stroke-width="0.15" >-20</text>
<line x1="625" y1="343.72" x2="627.7" y2="343.72" stroke="#000" stroke-width="1.8"/>
<line x1="625" y1="380.38" x2="627.7" y2="380.38" stroke="#000" stroke-width="1.8"/>
<line x1="625" y1="417.02" x2="627.7" y2="417.02" stroke="#000" stroke-width="1.8"/>
<line x1="625" y1="453.67" x2="627.7" y2="453.67" stroke="#000" stroke-width="1.8"/>
<line x1="625" y1="490.32" x2="627.7" y2="490.32" stroke="#000" stroke-width="1.8"/>
<path d="M426.5 325.1 L455.71 356.7 L484.93 387.8 L543.35 431.6 L601.77 473.4" fill="none" stroke="#000" stroke-width="2.3" stroke-linejoin="round"/>
<line x1="426.5" y1="321.8" x2="426.5" y2="328.4" stroke="#000" stroke-width="1.5"/>
<line x1="424.1" y1="321.8" x2="428.9" y2="321.8" stroke="#000" stroke-width="1.5"/>
<line x1="424.1" y1="328.4" x2="428.9" y2="328.4" stroke="#000" stroke-width="1.5"/>
<circle cx="426.5" cy="325.1" r="2.5" fill="#000"/>
<line x1="455.71" y1="355.2" x2="455.71" y2="358.2" stroke="#000" stroke-width="1.5"/>
<line x1="453.31" y1="355.2" x2="458.11" y2="355.2" stroke="#000" stroke-width="1.5"/>
<line x1="453.31" y1="358.2" x2="458.11" y2="358.2" stroke="#000" stroke-width="1.5"/>
<circle cx="455.71" cy="356.7" r="2.5" fill="#000"/>
<line x1="484.93" y1="386.1" x2="484.93" y2="389.5" stroke="#000" stroke-width="1.5"/>
<line x1="482.53" y1="386.1" x2="487.32" y2="386.1" stroke="#000" stroke-width="1.5"/>
<line x1="482.53" y1="389.5" x2="487.32" y2="389.5" stroke="#000" stroke-width="1.5"/>
<circle cx="484.93" cy="387.8" r="2.5" fill="#000"/>
<line x1="543.35" y1="413.7" x2="543.35" y2="449.5" stroke="#000" stroke-width="1.5"/>
<line x1="540.95" y1="413.7" x2="545.75" y2="413.7" stroke="#000" stroke-width="1.5"/>
<line x1="540.95" y1="449.5" x2="545.75" y2="449.5" stroke="#000" stroke-width="1.5"/>
<circle cx="543.35" cy="431.6" r="2.5" fill="#000"/>
<line x1="601.77" y1="468.1" x2="601.77" y2="478.7" stroke="#000" stroke-width="1.5"/>
<line x1="599.38" y1="468.1" x2="604.17" y2="468.1" stroke="#000" stroke-width="1.5"/>
<line x1="599.38" y1="478.7" x2="604.17" y2="478.7" stroke="#000" stroke-width="1.5"/>
<circle cx="601.77" cy="473.4" r="2.5" fill="#000"/>
<text transform="translate(360.98,297.45) scale(1.029,1)" font-size="35.40" font-weight="bold" stroke="#000" stroke-width="0.15">e</text>
<text x="551" y="398.6" font-size="12.6" text-anchor="start" fill="#0a0a82" font-weight="bold" stroke="#0a0a82" stroke-width="0.15" >25% of OX2</text>
<text x="550.6" y="423.6" font-size="16.8" text-anchor="start" fill="#000" font-weight="bold" stroke="#000" stroke-width="0.15" >ALD</text>
<text x="435.7" y="528.4" font-size="11.2" text-anchor="start" fill="#000" font-weight="bold" stroke="#000" stroke-width="0.15" >Concentration of ALD lipids (%)</text>
<text transform="translate(384.4,461.5) rotate(-90)" font-size="11.2" font-weight="bold" stroke="#000" stroke-width="0.15">Bilayer thickness (nm)</text>
<text transform="translate(667.9,484.6) rotate(-90)" font-size="11.2" font-weight="bold" stroke="#000" stroke-width="0.15">Relative increase/decrease (%)</text>
<path d="M415.6 571 V754.9 M413.6 754 H626" fill="none" stroke="#000" stroke-width="1.8"/>
<line x1="427.2" y1="754" x2="427.2" y2="757.8" stroke="#000" stroke-width="1.8"/>
<text x="427.2" y="769.6" font-size="12.5" text-anchor="middle" fill="#000" font-weight="bold" stroke="#000" stroke-width="0.15" >0</text>
<line x1="450.5" y1="754" x2="450.5" y2="757.8" stroke="#000" stroke-width="1.8"/>
<text x="450.5" y="769.6" font-size="12.5" text-anchor="middle" fill="#000" font-weight="bold" stroke="#000" stroke-width="0.15" >10</text>
<line x1="473.8" y1="754" x2="473.8" y2="757.8" stroke="#000" stroke-width="1.8"/>
<text x="473.8" y="769.6" font-size="12.5" text-anchor="middle" fill="#000" font-weight="bold" stroke="#000" stroke-width="0.15" >20</text>
<line x1="497.1" y1="754" x2="497.1" y2="757.8" stroke="#000" stroke-width="1.8"/>
<text x="497.1" y="769.6" font-size="12.5" text-anchor="middle" fill="#000" font-weight="bold" stroke="#000" stroke-width="0.15" >30</text>
<line x1="520.4" y1="754" x2="520.4" y2="757.8" stroke="#000" stroke-width="1.8"/>
<text x="520.4" y="769.6" font-size="12.5" text-anchor="middle" fill="#000" font-weight="bold" stroke="#000" stroke-width="0.15" >40</text>
<line x1="543.7" y1="754" x2="543.7" y2="757.8" stroke="#000" stroke-width="1.8"/>
<text x="543.7" y="769.6" font-size="12.5" text-anchor="middle" fill="#000" font-weight="bold" stroke="#000" stroke-width="0.15" >50</text>
<line x1="567" y1="754" x2="567" y2="757.8" stroke="#000" stroke-width="1.8"/>
<text x="567" y="769.6" font-size="12.5" text-anchor="middle" fill="#000" font-weight="bold" stroke="#000" stroke-width="0.15" >60</text>
<line x1="590.3" y1="754" x2="590.3" y2="757.8" stroke="#000" stroke-width="1.8"/>
<text x="590.3" y="769.6" font-size="12.5" text-anchor="middle" fill="#000" font-weight="bold" stroke="#000" stroke-width="0.15" >70</text>
<line x1="613.6" y1="754" x2="613.6" y2="757.8" stroke="#000" stroke-width="1.8"/>
<text x="613.6" y="769.6" font-size="12.5" text-anchor="middle" fill="#000" font-weight="bold" stroke="#000" stroke-width="0.15" >80</text>
<line x1="438.85" y1="754" x2="438.85" y2="756.2" stroke="#000" stroke-width="1.8"/>
<line x1="462.15" y1="754" x2="462.15" y2="756.2" stroke="#000" stroke-width="1.8"/>
<line x1="485.45" y1="754" x2="485.45" y2="756.2" stroke="#000" stroke-width="1.8"/>
<line x1="508.75" y1="754" x2="508.75" y2="756.2" stroke="#000" stroke-width="1.8"/>
<line x1="532.05" y1="754" x2="532.05" y2="756.2" stroke="#000" stroke-width="1.8"/>
<line x1="555.35" y1="754" x2="555.35" y2="756.2" stroke="#000" stroke-width="1.8"/>
<line x1="578.65" y1="754" x2="578.65" y2="756.2" stroke="#000" stroke-width="1.8"/>
<line x1="601.95" y1="754" x2="601.95" y2="756.2" stroke="#000" stroke-width="1.8"/>
<line x1="625.25" y1="754" x2="625.25" y2="756.2" stroke="#000" stroke-width="1.8"/>
<line x1="411.8" y1="754" x2="415.6" y2="754" stroke="#000" stroke-width="1.8"/>
<text x="410.3" y="757.4" font-size="12.5" text-anchor="end" fill="#000" font-weight="bold" stroke="#000" stroke-width="0.15" >0.05</text>
<line x1="411.8" y1="693.33" x2="415.6" y2="693.33" stroke="#000" stroke-width="1.8"/>
<text x="410.3" y="696.73" font-size="12.5" text-anchor="end" fill="#000" font-weight="bold" stroke="#000" stroke-width="0.15" >0.10</text>
<line x1="411.8" y1="632.67" x2="415.6" y2="632.67" stroke="#000" stroke-width="1.8"/>
<text x="410.3" y="636.07" font-size="12.5" text-anchor="end" fill="#000" font-weight="bold" stroke="#000" stroke-width="0.15" >0.15</text>
<line x1="411.8" y1="572" x2="415.6" y2="572" stroke="#000" stroke-width="1.8"/>
<text x="410.3" y="575.4" font-size="12.5" text-anchor="end" fill="#000" font-weight="bold" stroke="#000" stroke-width="0.15" >0.20</text>
<line x1="413.4" y1="723.67" x2="415.6" y2="723.67" stroke="#000" stroke-width="1.8"/>
<line x1="413.4" y1="663" x2="415.6" y2="663" stroke="#000" stroke-width="1.8"/>
<line x1="413.4" y1="602.34" x2="415.6" y2="602.34" stroke="#000" stroke-width="1.8"/>
<path d="M427.2 611 L456.32 633 L485.45 652 L543.7 686 L601.95 701" fill="none" stroke="#000" stroke-width="2.3" stroke-linejoin="round"/>
<circle cx="427.2" cy="611" r="2.5" fill="#000"/>
<circle cx="456.32" cy="633" r="2.5" fill="#000"/>
<circle cx="485.45" cy="652" r="2.5" fill="#000"/>
<circle cx="543.7" cy="686" r="2.5" fill="#000"/>
<circle cx="601.95" cy="701" r="2.5" fill="#000"/>
<text transform="translate(365.15,556.8) scale(1.022,1)" font-size="37.24" font-weight="bold" stroke="#000" stroke-width="0.15">f</text>
<text x="543.4" y="652.7" font-size="16.8" text-anchor="start" fill="#000" font-weight="bold" stroke="#000" stroke-width="0.15" >ALD</text>
<text x="543.6" y="673.6" font-size="12.6" text-anchor="start" fill="#0a0a82" font-weight="bold" stroke="#0a0a82" stroke-width="0.15" >25% of OX2</text>
<text x="436.5" y="789.8" font-size="11.2" text-anchor="start" fill="#000" font-weight="bold" stroke="#000" stroke-width="0.15" >Concentration of ALD lipids (%)</text>
<text transform="translate(367.4,691.8) rotate(-90)" font-size="11.2" font-weight="bold" stroke="#000" stroke-width="0.15">Average S<tspan font-size="7" dy="4.8">CD</tspan></text>
</svg>
</body></html>
